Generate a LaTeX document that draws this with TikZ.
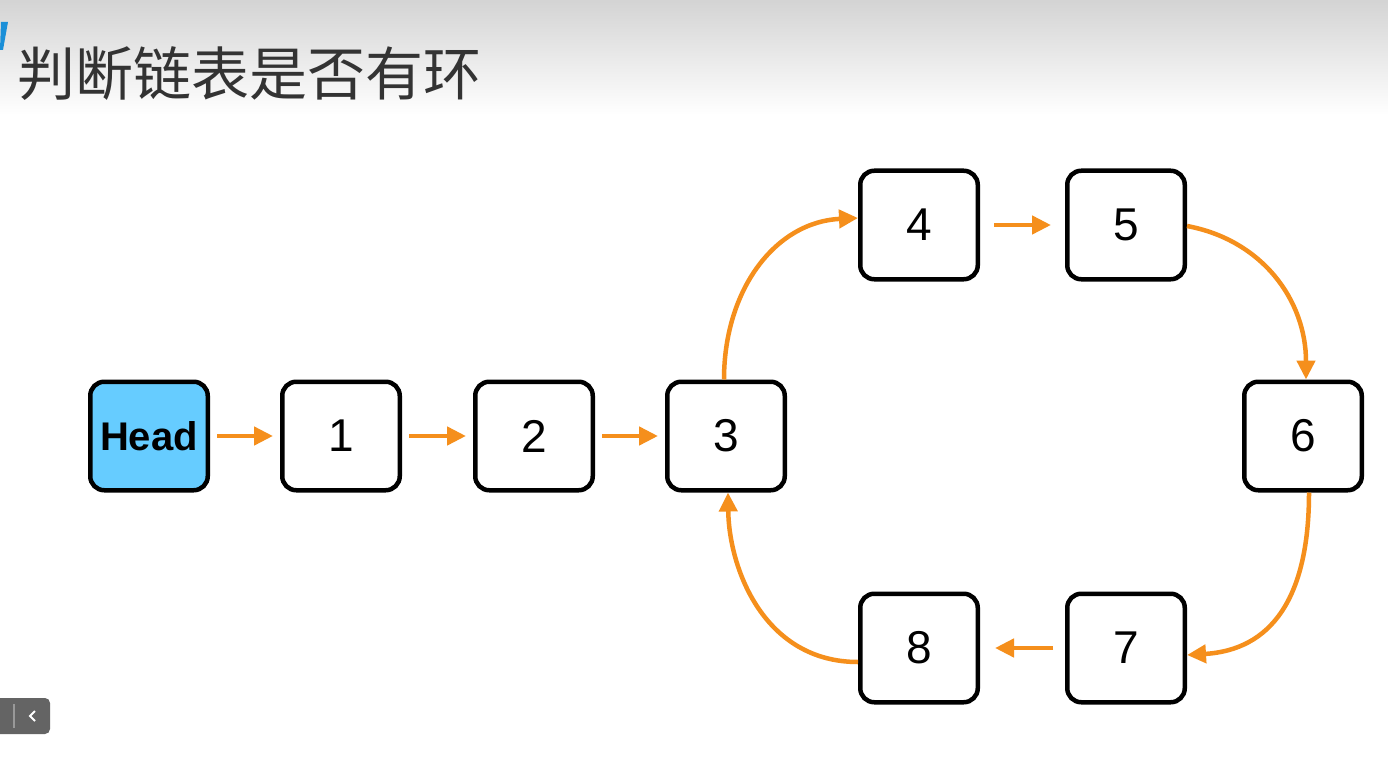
\documentclass[tikz,border=0pt]{standalone}
\usepackage{fontspec}
\setmainfont{Liberation Sans}
\newfontfamily\cjk{Noto Sans CJK SC}
\usetikzlibrary{arrows.meta,calc}
\definecolor{orng}{RGB}{245,143,28}
\definecolor{headblue}{RGB}{102,204,255}
\definecolor{titlegray}{RGB}{51,51,51}
\definecolor{markblue}{RGB}{26,143,216}
\definecolor{btngray}{RGB}{100,100,100}
\tikzset{
  boxnode/.style={draw=black, line width=4.5pt, rounded corners=14pt, minimum width=117.5pt, minimum height=108.5pt, inner sep=0pt, font=\fontsize{46}{46}\selectfont, fill=white},
  headnode/.style={boxnode, fill=headblue, font=\fontsize{40}{40}\selectfont\bfseries},
  arr/.style={draw=orng, line width=4.5pt, -{Triangle[length=19pt,width=18pt]}},
  sarr/.style={arr, shorten <=7pt, shorten >=7pt}
}
\begin{document}
\begin{tikzpicture}[x=1pt,y=-1pt]
\useasboundingbox (0,0) rectangle (1388,770);
\fill[white] (0,0) rectangle (1388,770);
\shade[top color=black!17, bottom color=white] (0,0) rectangle (1388,115);
\fill[markblue] (1,22) -- (8,22) -- (3,50) -- (0,50) -- cycle;
\node[anchor=west, inner sep=0pt, text=titlegray, font=\cjk\fontsize{58}{58}\selectfont] (title) at (17,74) {判断链表是否有环};
% button
\fill[btngray, rounded corners=5pt] (-10,698) rectangle (50,734);
\draw[black!40, line width=1.2pt] (14,704) -- (14,728);
\draw[white, line width=1.8pt] (35,711) -- (30,716) -- (35,721);
% nodes
\node[headnode] (h) at (149,436) {Head};
\node[boxnode] (n1) at (341,436) {1};
\node[boxnode] (n2) at (534,436) {2};
\node[boxnode] (n3) at (726,436) {3};
\node[boxnode] (n4) at (919,225) {4};
\node[boxnode] (n5) at (1126,225) {5};
\node[boxnode] (n6) at (1303,436) {6};
\node[boxnode] (n7) at (1126,648) {7};
\node[boxnode] (n8) at (919,648) {8};
% straight arrows
\draw[sarr] (h) -- (n1);
\draw[sarr] (n1) -- (n2);
\draw[sarr] (n2) -- (n3);
\draw[arr, shorten <=14pt, shorten >=14pt] (n4) -- (n5);
\draw[arr, shorten <=12pt, shorten >=15pt] (n7) -- (n8);
% curved arrows
\draw[arr] ([xshift=-2pt]n3.north) .. controls (724,290) and (775,222) .. ([yshift=7pt]n4.west);
\draw[arr] ([yshift=-1pt]n5.east) .. controls (1262,240) and (1306,300) .. ([xshift=3pt]n6.north);
\draw[arr] ([xshift=6pt]n6.south) .. controls (1309,600) and (1270,650) .. ([yshift=-7pt]n7.east);
\draw[arr] ([yshift=-14pt]n8.west) .. controls (765,662) and (729,570) .. ([xshift=2pt]n3.south);
\end{tikzpicture}
\end{document}
